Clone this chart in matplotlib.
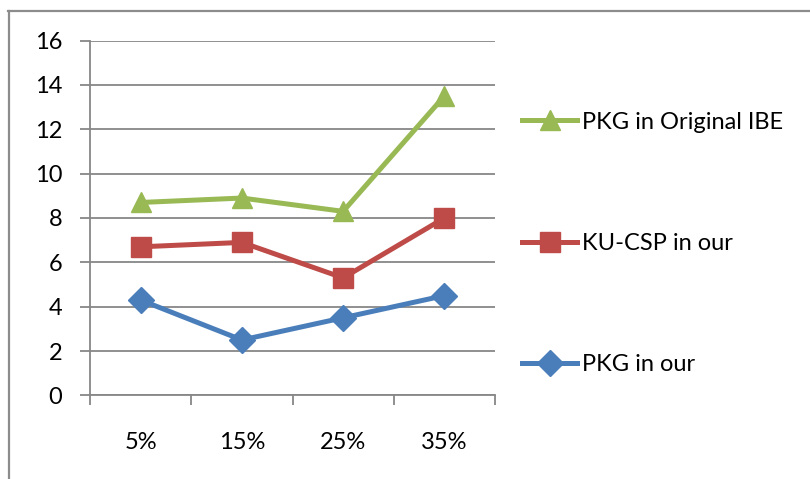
import matplotlib
matplotlib.use("Agg")
import matplotlib.pyplot as plt
from matplotlib.lines import Line2D
import numpy as np

categories = ["5%", "15%", "25%", "35%"]
pkg_our = [4.3, 2.5, 3.5, 4.5]
kucsp_our = [6.7, 6.9, 5.3, 8.0]
pkg_ibe = [8.7, 8.9, 8.3, 13.5]
yticks = [0, 2, 4, 6, 8, 10, 12, 14, 16]

plt.rcParams['font.family'] = ['Lato', 'DejaVu Sans']
FS = 17

W, H = 810, 479
fig = plt.figure(figsize=(W/100, H/100), dpi=100)
ax = fig.add_axes([90/W, 1-395.4/H, (495-90)/W, (395.4-40.6)/H])

x = np.arange(len(categories))
blue, red, green = "#4A7EBB", "#BE4B48", "#98B954"
l1, = ax.plot(x, pkg_our, color=blue, lw=3.6, marker="D", ms=13, label="PKG in our", zorder=3)
l2, = ax.plot(x, kucsp_our, color=red, lw=3.6, marker="s", ms=14, label="KU-CSP in our", zorder=3)
l3, = ax.plot(x, pkg_ibe, color=green, lw=3.6, marker="^", ms=15, label="PKG in Original IBE", zorder=3)

gc = "#878787"
ax.set_ylim(0, 16)
ax.set_xlim(-0.5, len(categories) - 0.5)
ax.set_yticks(yticks)
ax.set_yticklabels([str(v) for v in yticks])
ax.yaxis.grid(True, color=gc, lw=1.3)
ax.set_axisbelow(True)
ax.set_xticks(x)
ax.set_xticklabels(categories)
ax.set_xticks(np.arange(-0.5, len(categories)), minor=True)
ax.tick_params(axis="x", which="major", length=0, pad=26, labelsize=FS)
ax.tick_params(axis="x", which="minor", length=7, width=1.3, color=gc, direction="out")
ax.tick_params(axis="y", length=7, width=1.3, color=gc, direction="out", pad=13, labelsize=FS)
for s in ["top", "right"]:
    ax.spines[s].set_visible(False)
for s in ["left", "bottom"]:
    ax.spines[s].set_color(gc)
    ax.spines[s].set_linewidth(1.3)

leg = fig.legend(handles=[l3, l2, l1], loc="center left",
                 bbox_to_anchor=(522/W, 1-243.5/H), frameon=False,
                 fontsize=FS, handlelength=2.33, handletextpad=0.2,
                 borderpad=0, borderaxespad=0, labelspacing=4.25)

fc = "#8C8C8C"
fig.add_artist(Line2D([8/W, 1], [1-11/H, 1-11/H], color=fc, lw=1.6, transform=fig.transFigure))
fig.add_artist(Line2D([9/W, 9/W], [0, 1-11/H], color=fc, lw=1.6, transform=fig.transFigure))

fig.savefig("out.png", dpi=100)
